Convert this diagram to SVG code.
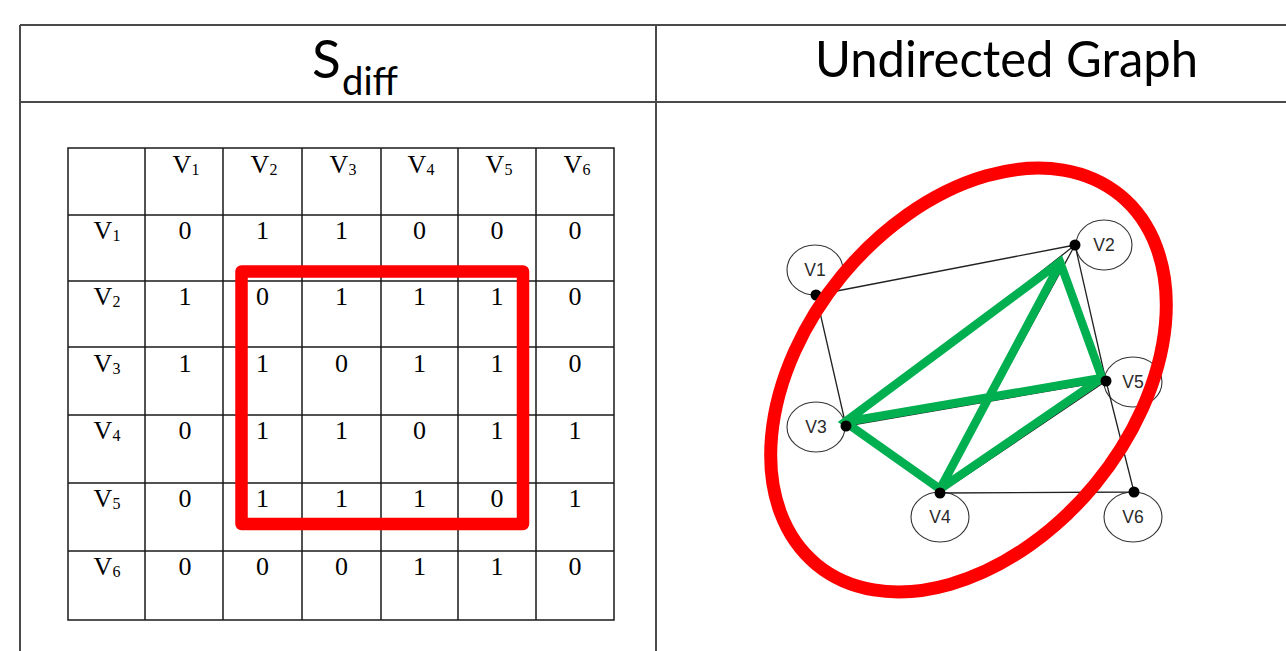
<svg xmlns="http://www.w3.org/2000/svg" width="1286" height="651" viewBox="0 0 1286 651">
  <style>
    .frame { stroke: #4a4a4a; stroke-width: 2; fill: none; }
    .grid { stroke: #1a1a1a; stroke-width: 1.5; fill: none; }
    .head { font-family: Lato, "Open Sans", sans-serif; fill: #000; }
    .cell { font-family: "Liberation Serif", "Times New Roman", serif; font-size: 26px; fill: #000; text-anchor: middle; }
    .sub { font-size: 16px; }
    .node ellipse { fill: #fff; stroke: #333; stroke-width: 1.1; }
    .node text { font-family: "Liberation Sans", Arial, sans-serif; font-size: 17.5px; fill: #2a2a2a; text-anchor: middle; }
    .node circle { fill: #000; }
    .edge { stroke: #222; stroke-width: 1.3; fill: none; }
    .hi { stroke: #00b050; stroke-width: 8.5; fill: none; stroke-linejoin: miter; }
  </style>

  <rect width="1286" height="651" fill="#fff"/>

  <!-- outer two-column frame -->
  <g id="frame">
    <path class="frame" d="M20 25 H1286 M20 102 H1286 M20 25 V651 M656 25 V651"/>
    <text class="head" x="312" y="78" font-size="53">S</text>
    <text class="head" x="342" y="95" font-size="39" textLength="56" lengthAdjust="spacingAndGlyphs">diff</text>
    <text class="head" x="815" y="77" font-size="50" textLength="383" lengthAdjust="spacingAndGlyphs">Undirected Graph</text>
  </g>

  <!-- adjacency matrix -->
  <g id="matrix">
    <path class="grid" d="M68 148 H614 V620 H68 Z
      M145 148 V620 M223 148 V620 M302 148 V620 M381 148 V620 M458 148 V620 M536 148 V620
      M68 215 H614 M68 281 H614 M68 347 H614 M68 415 H614 M68 483 H614 M68 551 H614"/>
    <!-- column headers -->
    <g class="cell">
      <text x="186" y="173">V<tspan class="sub" dy="2">1</tspan></text>
      <text x="264" y="173">V<tspan class="sub" dy="2">2</tspan></text>
      <text x="343" y="173">V<tspan class="sub" dy="2">3</tspan></text>
      <text x="421" y="173">V<tspan class="sub" dy="2">4</tspan></text>
      <text x="499" y="173">V<tspan class="sub" dy="2">5</tspan></text>
      <text x="577" y="173">V<tspan class="sub" dy="2">6</tspan></text>
    </g>
    <!-- row headers -->
    <g class="cell">
      <text x="107" y="239">V<tspan class="sub" dy="2">1</tspan></text>
      <text x="107" y="305">V<tspan class="sub" dy="2">2</tspan></text>
      <text x="107" y="371.5">V<tspan class="sub" dy="2">3</tspan></text>
      <text x="107" y="439">V<tspan class="sub" dy="2">4</tspan></text>
      <text x="107" y="507">V<tspan class="sub" dy="2">5</tspan></text>
      <text x="107" y="575">V<tspan class="sub" dy="2">6</tspan></text>
    </g>
    <!-- values -->
    <g class="cell">
      <text x="185" y="239">0</text><text x="262.5" y="239">1</text><text x="341.5" y="239">1</text><text x="419.5" y="239">0</text><text x="497" y="239">0</text><text x="575" y="239">0</text>
      <text x="185" y="305">1</text><text x="262.5" y="305">0</text><text x="341.5" y="305">1</text><text x="419.5" y="305">1</text><text x="497" y="305">1</text><text x="575" y="305">0</text>
      <text x="185" y="371.5">1</text><text x="262.5" y="371.5">1</text><text x="341.5" y="371.5">0</text><text x="419.5" y="371.5">1</text><text x="497" y="371.5">1</text><text x="575" y="371.5">0</text>
      <text x="185" y="439">0</text><text x="262.5" y="439">1</text><text x="341.5" y="439">1</text><text x="419.5" y="439">0</text><text x="497" y="439">1</text><text x="575" y="439">1</text>
      <text x="185" y="507">0</text><text x="262.5" y="507">1</text><text x="341.5" y="507">1</text><text x="419.5" y="507">1</text><text x="497" y="507">0</text><text x="575" y="507">1</text>
      <text x="185" y="575">0</text><text x="262.5" y="575">0</text><text x="341.5" y="575">0</text><text x="419.5" y="575">1</text><text x="497" y="575">1</text><text x="575" y="575">0</text>
    </g>
    <!-- highlighted V2..V5 block -->
    <rect x="241.5" y="271.5" width="281.5" height="252.5" fill="none" stroke="#ff0000" stroke-width="12.5" stroke-linejoin="round"/>
  </g>

  <!-- graph nodes -->
  <g id="node-v1" class="node"><ellipse cx="815" cy="270" rx="28" ry="25"/><text x="815" y="276">V1</text></g>
  <g id="node-v2" class="node"><ellipse cx="1104" cy="245" rx="28" ry="25"/><text x="1104" y="251">V2</text></g>
  <g id="node-v3" class="node"><ellipse cx="816" cy="427" rx="29" ry="25"/><text x="816" y="433">V3</text></g>
  <g id="node-v4" class="node"><ellipse cx="940" cy="517" rx="29" ry="25"/><text x="940" y="523">V4</text></g>
  <g id="node-v5" class="node"><ellipse cx="1133" cy="382" rx="29" ry="25"/><text x="1133" y="388">V5</text></g>
  <g id="node-v6" class="node"><ellipse cx="1133" cy="517" rx="29" ry="25"/><text x="1133" y="523">V6</text></g>

  <!-- connectors -->
  <g id="edges">
    <path class="edge" d="M816 295 L1075 245 M816 295 L846 426 M1075 245 L1106 381 M1106 381 L1134 492 M940 493 L1134 492
      M1075 245 L846 426 M1075 245 L940 493 M846 426 L1106 381 M846 426 L940 493 M940 493 L1106 381"/>
    <path class="hi" d="M845 422 L1060 262 L1102 378 L940 489 Z M1060 264 L940 489 M845 422 L1102 378"/>
  </g>

  <!-- vertex dots -->
  <g id="dots" class="node">
    <circle cx="816" cy="295" r="5.5"/>
    <circle cx="1075" cy="245" r="5.5"/>
    <circle cx="846" cy="426" r="5.5"/>
    <circle cx="940" cy="493" r="5.5"/>
    <circle cx="1106" cy="381" r="5.5"/>
    <circle cx="1134" cy="492" r="5.5"/>
  </g>

  <!-- clique outline -->
  <g id="clique">
    <ellipse cx="968.5" cy="380" rx="239" ry="164" transform="rotate(-50.5 968.5 380)" fill="none" stroke="#ff0000" stroke-width="13"/>
  </g>
</svg>
